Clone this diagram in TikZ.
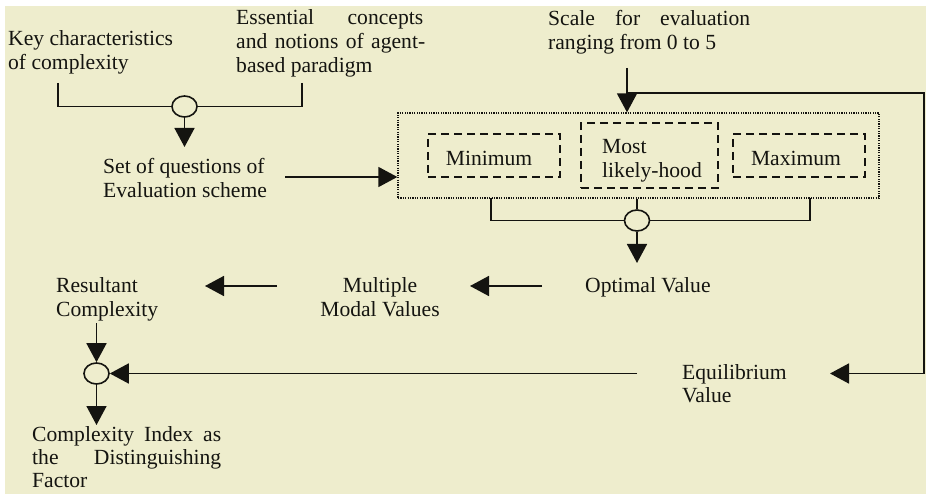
\documentclass[tikz,border=0pt]{standalone}
\usepackage{fontspec}
\setmainfont{Liberation Serif}
\usetikzlibrary{arrows.meta,shapes.geometric}
\definecolor{paper}{RGB}{238,237,205}
\definecolor{ink}{RGB}{20,20,16}
% multi-line text blocks whose reference point is the first baseline
\newcommand\txtl[1]{\begin{tabular}[t]{@{}l@{}}#1\end{tabular}}
\newcommand\txtc[1]{\begin{tabular}[t]{@{}c@{}}#1\end{tabular}}
% a fully justified line of given width
\newcommand\spread[2]{\makebox[#1][s]{#2}}
\begin{document}
\begin{tikzpicture}[x=1pt,y=-1pt,
  every node/.style={font=\fontsize{21.6}{23.8}\selectfont, text=ink},
  txt/.style={anchor=base west, inner sep=0pt},
  ctxt/.style={anchor=base, inner sep=0pt},
  wire/.style={draw=ink, line width=1.6pt},
  arr/.style={wire, -{Triangle[length=19pt,width=20pt]}},
  junction/.style={ellipse, draw=ink, line width=1.6pt, fill=paper,
    minimum width=25pt, minimum height=21pt, inner sep=0pt},
  choice/.style={draw=ink, line width=1.5pt, dash pattern=on 8pt off 5pt,
    inner sep=0pt},
  group/.style={draw=ink, line width=1.3pt, dash pattern=on 1.2pt off 1.2pt,
    inner sep=0pt}]
\useasboundingbox (0,0) rectangle (926,494);
\fill[white] (0,0) rectangle (926,494);
\fill[paper] (5,6) rectangle (926,494);

% inputs to the evaluation scheme
\node[txt] (key) at (8,46) {\txtl{Key characteristics\\of complexity}};
\node[txt] (ess) at (236,25) {\txtl{\spread{187pt}{Essential concepts}\\
  \spread{189pt}{and notions of agent-}\\based paradigm}};
\node[junction] (j1) at (184.5,106.5) {};
\coordinate (kb) at (58,83);
\coordinate (eb) at (302,83);
\draw[wire] (kb) -- (kb |- j1) -- (j1.west);
\draw[wire] (eb) -- (eb |- j1) -- (j1.east);
\coordinate (q1) at (184.5,147);
\draw[arr] (j1.south) -- (q1);
\node[txt] (sq) at (103,174) {\txtl{Set of questions of\\Evaluation scheme}};

% estimation group
\node[group, minimum width=481pt, minimum height=85pt] (grp) at (638.5,155.5) {};
\node[choice, minimum width=132pt, minimum height=43pt] (mn) at (494,155.5) {};
\node[ctxt] (mnt) at (489,166) {Minimum};
\node[choice, minimum width=137pt, minimum height=65pt] (ml) at (649.5,155.5) {};
\node[txt] (mlt) at (602,154) {\txtl{Most\\likely-hood}};
\node[choice, minimum width=132pt, minimum height=43pt] (mx) at (799,155.5) {};
\node[ctxt] (mxt) at (796,166) {Maximum};

\coordinate (qs) at (285,177);
\draw[arr] (qs) -- (grp.west |- qs);

% scale and feedback loop
\node[txt] (sc) at (548,25.5) {\txtl{\spread{202pt}{Scale for evaluation}\\ranging from 0 to 5}};
\coordinate (sd) at (627,68);
\draw[arr] (sd) -- (sd |- grp.north);
\coordinate (fb) at (627,93);
\coordinate (fr) at (924,93);
\coordinate (eqtip) at (830,373.5);
\draw[arr] (fb) -- (fr) -- (fr |- eqtip) -- (eqtip);
\node[txt] (eq) at (682,379) {\txtl{Equilibrium\\Value}};

% combination of the three estimates
\node[junction] (j2) at (637,220.5) {};
\coordinate (bl) at (491,198);
\coordinate (br) at (810,198);
\draw[wire] (bl) -- (bl |- j2) -- (j2.west);
\draw[wire] (br) -- (br |- j2) -- (j2.east);
\draw[wire] (grp.south -| j2) -- (j2.north);
\coordinate (ovtip) at (637,263);
\draw[arr] (j2.south) -- (ovtip);
\node[txt] (ov) at (585,293) {Optimal Value};

\coordinate (m1s) at (542,286);
\coordinate (m1e) at (470,286);
\draw[arr] (m1s) -- (m1e);
\node[ctxt] (mm) at (380,293) {\txtc{Multiple\\Modal Values}};
\coordinate (m2s) at (277,286);
\coordinate (m2e) at (205,286);
\draw[arr] (m2s) -- (m2e);
\node[txt] (rs) at (56,293) {\txtl{Resultant\\Complexity}};

% final index
\node[junction] (j3) at (96.5,373.5) {};
\coordinate (rsd) at (96.5,323);
\draw[arr] (rsd) -- (j3.north);
\coordinate (ls) at (637,373.5);
\draw[arr] (ls) -- (j3.east);
\coordinate (citip) at (96.5,425);
\draw[arr] (j3.south) -- (citip);
\node[txt, font=\fontsize{21.6}{23}\selectfont] (ci) at (32,441)
  {\txtl{\spread{189pt}{Complexity Index as}\\
  \spread{189pt}{the Distinguishing}\\Factor}};
\end{tikzpicture}
\end{document}
